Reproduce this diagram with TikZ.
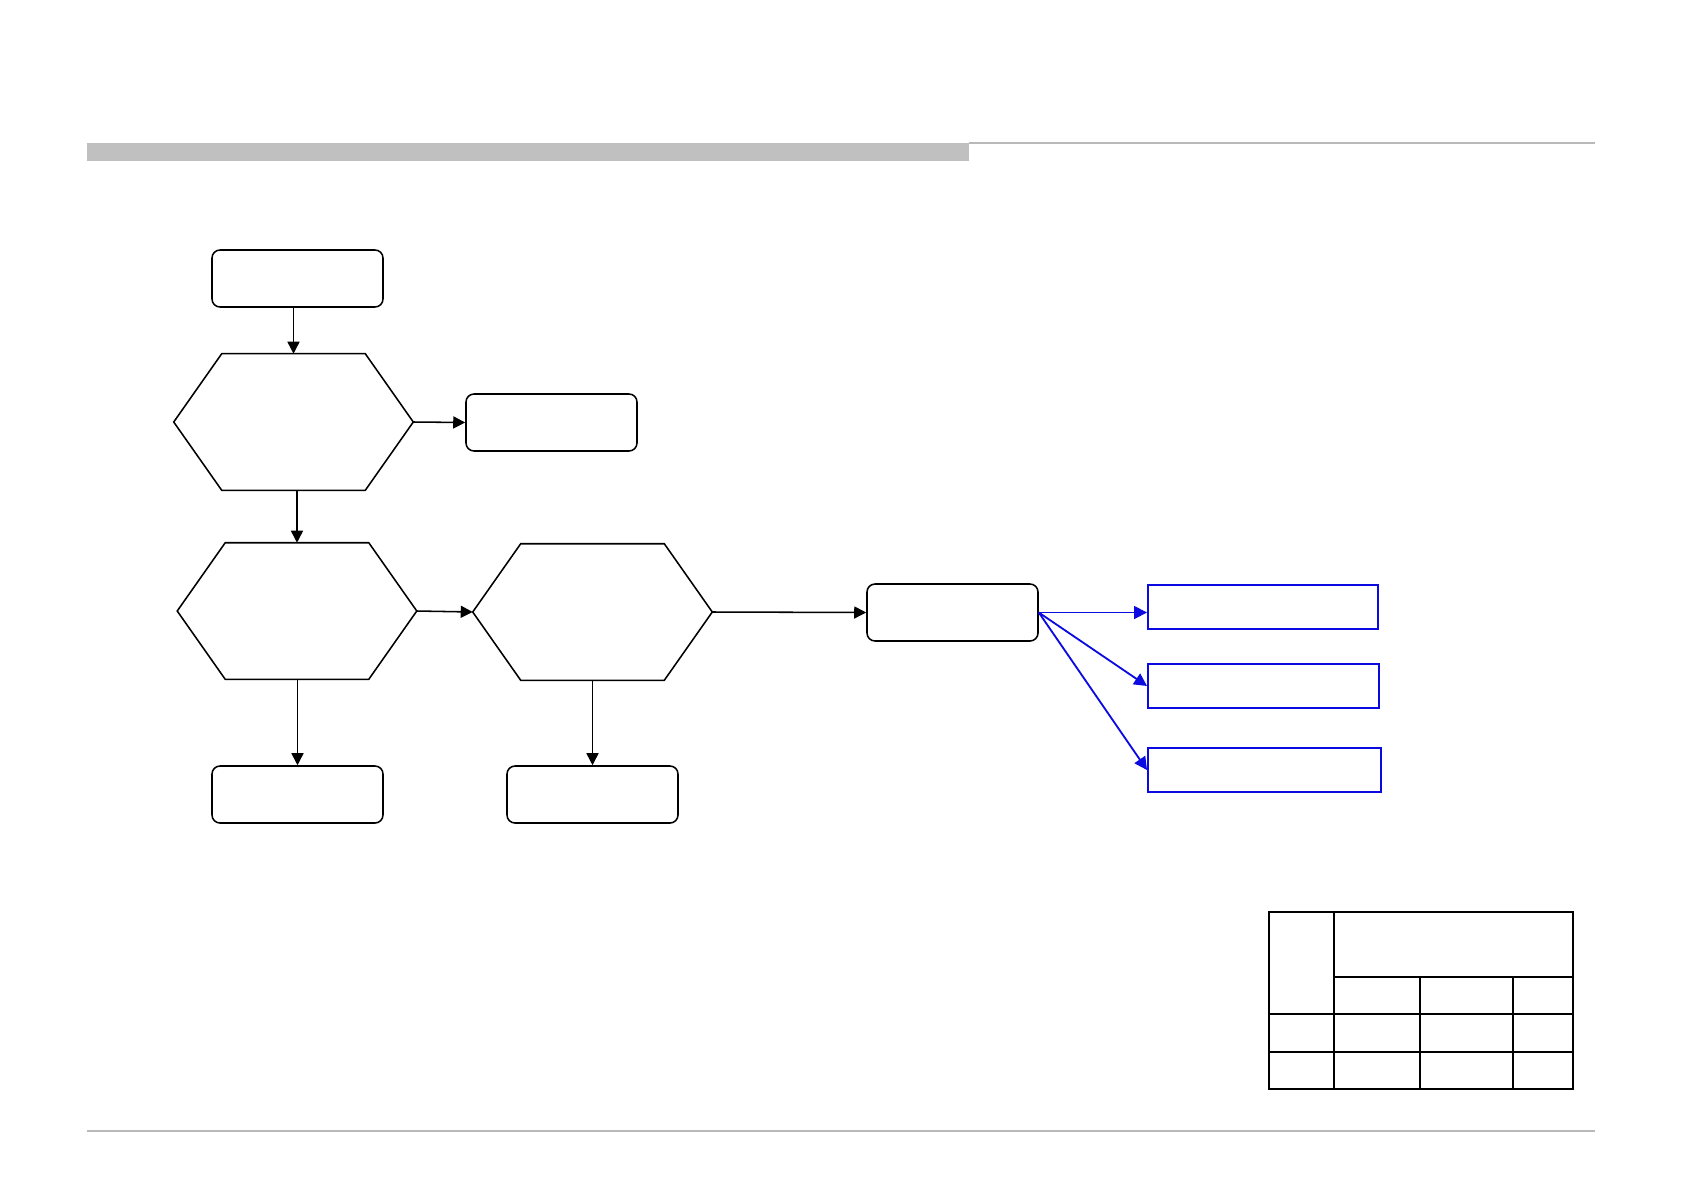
\documentclass[tikz,border=0pt]{standalone}
\usepackage{tikz}
\usetikzlibrary{arrows.meta,positioning,calc}
\definecolor{flowgray}{RGB}{192,192,192}
\definecolor{flowline}{RGB}{185,185,185}
\definecolor{flowblue}{RGB}{10,10,225}
\tikzset{
  fcard/.style={draw=black, fill=white, rounded corners=2mm, line width=1.1pt,
    minimum width=42.75mm, minimum height=14.25mm, inner sep=0pt},
  fhex/.style={draw=none, minimum width=59.75mm, minimum height=34mm, inner sep=0pt},
  fblue/.style={draw=flowblue, line width=1.4pt, minimum width=57.5mm,
    minimum height=11mm, inner sep=0pt},
  arr/.style={-{Triangle[length=3mm,width=3mm]}, line width=1.1pt, black},
  bluearr/.style={-{Triangle[length=3.2mm,width=3.2mm]}, line width=1.3pt, flowblue}
}
\begin{document}
\begin{tikzpicture}[x=0.25mm,y=-0.25mm]
  \useasboundingbox (0,0) rectangle (1683,1191);
  % page frame
  \fill[flowgray] (87,143) rectangle (969,161);
  \draw[flowline, line width=0.5mm] (969,143) -- (1595,143);
  \draw[flowline, line width=0.35mm] (87,1131) -- (1595,1131);

  % flow nodes
  \node[fcard] (start) at (297.5,278.5) {};
  \node[fhex] (chk1) at (293.5,422) {};
  \node[fcard] (out1) at (551.5,422.5) {};
  \node[fhex] (chk2) at (297,611) {};
  \node[fhex] (chk3) at (592.5,612) {};
  \node[fcard] (next) at (952.5,612.5) {};
  \node[fcard] (out2) at (297.5,794.5) {};
  \node[fcard] (out3) at (592.5,794.5) {};
  \node[fblue] (res1) at (1263,607) {};
  \node[fblue, minimum width=57.75mm] (res2) at (1263.5,686) {};
  \node[fblue, minimum width=58.25mm] (res3) at (1264.5,770) {};

  % hexagon outlines
  \foreach \h in {chk1,chk2,chk3}
    \draw[line width=1.1pt, line join=miter] (\h.west) -- ([xshift=12mm]\h.north west)
      -- ([xshift=-12mm]\h.north east) -- (\h.east)
      -- ([xshift=-12mm]\h.south east) -- ([xshift=12mm]\h.south west) -- cycle;

  % connectors
  \draw[arr] (chk1.north |- start.south) -- (chk1.north);
  \draw[arr] (chk1.east) -- (out1.west);
  \draw[arr] (chk2.north |- chk1.south) -- (chk2.north);
  \draw[arr] (chk2.east) -- (chk3.west);
  \draw[arr] (chk3.east) -- (next.west);
  \draw[arr] (out2.north |- chk2.south) -- (out2.north);
  \draw[arr] (chk3.south) -- (out3.north);
  \draw[bluearr] (next.east) -- (res1.west |- next.east);
  \draw[bluearr] (next.east) -- (res2.west);
  \draw[bluearr] (next.east) -- (res3.west);

  % table
  \begin{scope}[line width=1.4pt]
    \draw (1269,912) rectangle (1573,1089);
    \draw (1334,912) -- (1334,1089);
    \draw (1334,977) -- (1573,977);
    \draw (1269,1014) -- (1573,1014);
    \draw (1269,1052) -- (1573,1052);
    \draw (1420,977) -- (1420,1089);
    \draw (1513,977) -- (1513,1089);
  \end{scope}
\end{tikzpicture}
\end{document}
